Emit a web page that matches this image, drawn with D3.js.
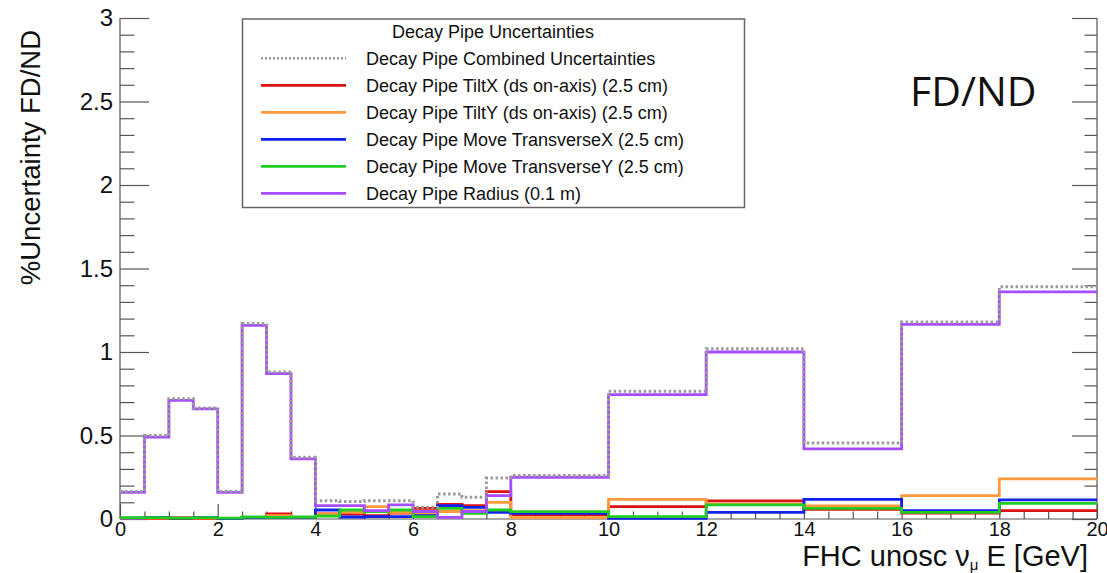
<!DOCTYPE html>
<html><head><meta charset="utf-8">
<script src="https://cdn.jsdelivr.net/npm/d3@7"></script>
<style>
html,body{margin:0;padding:0;background:#fff;}
svg{display:block;font-family:"Liberation Sans",Arial,Helvetica,sans-serif;}
</style></head>
<body>
<svg id="chart" width="1107" height="573"></svg>
<script>
// ---- data ----
const binEdges = [0,0.5,1,1.5,2,2.5,3,3.5,4,4.5,5,5.5,6,6.5,7,7.5,8,10,12,14,16,18,20];
const combined = [0.165,0.50,0.72,0.665,0.165,1.17,0.88,0.37, 0.11,0.105,0.11,0.11,0.07,0.15,0.13,0.245, 0.26,0.765,1.02,0.455,1.18,1.39];
const tiltX    = [0.002,0.002,0.002,0.002,0.003,0.01,0.03,0.01, 0.03,0.03,0.02,0.035,0.064,0.088,0.08,0.164, 0.025,0.074,0.108,0.058,0.035,0.05];
const tiltY    = [0.003,0.005,0.01,0.006,0.003,0.01,0.02,0.01, 0.03,0.04,0.074,0.04,0.03,0.045,0.05,0.1, 0.008,0.118,0.09,0.078,0.14,0.24];
const moveX    = [0.005,0.01,0.005,0.01,0.003,0.008,0.008,0.01, 0.054,0.012,0.014,0.014,0.02,0.08,0.07,0.04, 0.034,0.004,0.04,0.118,0.05,0.114];
const moveY    = [0.008,0.008,0.005,0.008,0.005,0.012,0.01,0.012, 0.018,0.054,0.044,0.054,0.014,0.064,0.034,0.054, 0.044,0.014,0.084,0.064,0.04,0.094];
const radius   = [0.16,0.49,0.71,0.66,0.16,1.16,0.87,0.36, 0.08,0.08,0.05,0.085,0.045,0.01,0.045,0.14, 0.25,0.745,1.0,0.42,1.165,1.36];

const legendTitle = "Decay Pipe Uncertainties";
const seriesNames = [
  "Decay Pipe Combined Uncertainties",
  "Decay Pipe TiltX (ds on-axis) (2.5 cm)",
  "Decay Pipe TiltY (ds on-axis) (2.5 cm)",
  "Decay Pipe Move TransverseX (2.5 cm)",
  "Decay Pipe Move TransverseY (2.5 cm)",
  "Decay Pipe Radius (0.1 m)"
];
const xMajorTicks = [0,2,4,6,8,10,12,14,16,18,20];
const yMajorTicks = [0,0.5,1,1.5,2,2.5,3];
const yTickLabels = ["0","0.5","1","1.5","2","2.5","3"];

// ---- styles ----
const colors = ["#9a9a9a","#dd1111","#ff9a3c","#1122ee","#22cc22","#a64dff"];
const series = [combined,tiltX,tiltY,moveX,moveY,radius];

const svg = d3.select("#chart");
const L=120, R=1097, T=18, B=519;
const x = d3.scaleLinear().domain([0,20]).range([L,R]);
const y = d3.scaleLinear().domain([0,3]).range([B,T]);

const axisColor="#555";
svg.append("line").attr("x1",L).attr("x2",L).attr("y1",T).attr("y2",B).attr("stroke",axisColor).attr("stroke-width",1.2);
svg.append("line").attr("x1",R).attr("x2",R).attr("y1",T).attr("y2",B).attr("stroke",axisColor).attr("stroke-width",1.2);
svg.append("line").attr("x1",L).attr("x2",R).attr("y1",B).attr("y2",B).attr("stroke",axisColor).attr("stroke-width",1.2);

function styleAxis(g){
  g.select(".domain").remove();
  g.selectAll("line").attr("stroke",axisColor).attr("stroke-width",1.2);
}
const xMinor = d3.range(0,20.001,0.5).filter(v=>Math.abs(v/2-Math.round(v/2))>1e-6);
svg.append("g").attr("transform",`translate(0,${B})`)
  .call(d3.axisBottom(x).tickValues(xMinor).tickSize(-7.5).tickFormat(""))
  .call(styleAxis);
svg.append("g").attr("transform",`translate(0,${B})`)
  .call(d3.axisBottom(x).tickValues(xMajorTicks).tickSize(-15).tickPadding(3).tickFormat(d3.format("d")))
  .call(styleAxis)
  .call(g=>g.selectAll("text").attr("font-size",20).attr("fill","#111"));

const yMinor = d3.range(0,3.001,0.1).filter(v=>Math.abs(v*2-Math.round(v*2))>1e-6);
svg.append("g").attr("transform",`translate(${L},0)`)
  .call(d3.axisLeft(y).tickValues(yMinor).tickSize(-14.5).tickFormat(""))
  .call(styleAxis);
svg.append("g").attr("transform",`translate(${L},0)`)
  .call(d3.axisLeft(y).tickValues(yMajorTicks).tickSize(-29).tickPadding(7).tickFormat((d,i)=>yTickLabels[i]))
  .call(styleAxis)
  .call(g=>g.selectAll("text").attr("font-size",24).attr("fill","#111"));
svg.append("g").attr("transform",`translate(${R},0)`)
  .call(d3.axisRight(y).tickValues(yMinor).tickSize(-12.5).tickFormat(""))
  .call(styleAxis);
svg.append("g").attr("transform",`translate(${R},0)`)
  .call(d3.axisRight(y).tickValues(yMajorTicks).tickSize(-25).tickFormat(""))
  .call(styleAxis);

// histograms
const line = d3.line().x(d=>x(d[0])).y(d=>y(d[1])).curve(d3.curveStepAfter);
function pts(vals){
  const p = vals.map((v,i)=>[binEdges[i],v]);
  p.push([binEdges[binEdges.length-1], vals[vals.length-1]]);
  return p;
}
const drawOrder = [1,2,3,4,5,0];
drawOrder.forEach(i=>{
  svg.append("path").datum(pts(series[i])).attr("d",line)
    .attr("fill","none").attr("stroke",colors[i])
    .attr("stroke-width", i===0?3:2.8)
    .attr("stroke-dasharray", i===0?"2.5,2.5":null);
});

// legend
const lg = svg.append("g");
lg.append("rect").attr("x",242.5).attr("y",19).attr("width",502).attr("height",188.5)
  .attr("fill","#fff").attr("stroke","#666").attr("stroke-width",1.5);
lg.append("text").attr("x",493).attr("y",38).attr("text-anchor","middle")
  .attr("font-size",18).attr("fill","#111").text(legendTitle);
const rowY = [58.3,85.3,112.3,139.3,166.3,193.3];
seriesNames.forEach((n,i)=>{
  lg.append("line").attr("x1",261).attr("x2",346).attr("y1",rowY[i]).attr("y2",rowY[i])
    .attr("stroke",colors[i]).attr("stroke-width",i===0?2.5:2.8)
    .attr("stroke-dasharray",i===0?"2,2":null);
  lg.append("text").attr("x",366).attr("y",rowY[i]+6.5).attr("font-size",18).attr("fill","#111").text(n);
});

// axis titles
svg.append("text").attr("transform","translate(40,30) rotate(-90)").attr("text-anchor","end")
  .attr("font-size",27.5).attr("fill","#111").text("%Uncertainty FD/ND");
const xt = svg.append("text").attr("x",1088).attr("y",566).attr("text-anchor","end")
  .attr("font-size",29).attr("fill","#111");
xt.append("tspan").text("FHC unosc \u03BD");
xt.append("tspan").attr("font-size",15).attr("dy",4).text("\u03BC");
xt.append("tspan").attr("dy",-4).text(" E [GeV]");

// FD/ND annotation
svg.append("text").attr("x",910).attr("y",106).attr("font-size",41)
  .attr("font-family","'Open Sans', Lato, sans-serif").attr("fill","#111").text("FD/ND");
</script>
</body></html>
